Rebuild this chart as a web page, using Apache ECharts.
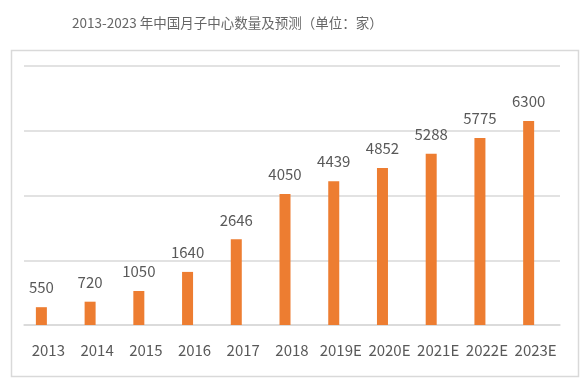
<!DOCTYPE html>
<html><head><meta charset="utf-8">
<script src="https://cdn.jsdelivr.net/npm/echarts@6/dist/echarts.min.js"></script>
<style>html,body{margin:0;padding:0;background:#fff}#c{width:583px;height:381px}</style>
</head><body><div id="c"></div>
<script>
const categories = ['2013','2014','2015','2016','2017','2018','2019E','2020E','2021E','2022E','2023E'];
const values = [550,720,1050,1640,2646,4050,4439,4852,5288,5775,6300];
const titleText = '2013-2023 年中国月子中心数量及预测（单位：家）';
const yMin = 0, yMax = 8000, yInterval = 2000;

const font = '"Noto Sans CJK SC", "Noto Sans", sans-serif';
const chart = echarts.init(document.getElementById('c'), null, {renderer:'canvas'});
chart.setOption({
  animation:false,
  backgroundColor:'#fff',
  title:{text:titleText,left:67,top:11,textStyle:{fontFamily:font,fontSize:13.5,fontWeight:'normal',color:'#666666'}},
  graphic:[{type:'rect',left:9,top:48,shape:{width:567,height:326},style:{fill:'none',stroke:'#d9d9d9',lineWidth:1.5},silent:true}],
  grid:{left:24,right:23,top:66,bottom:56,containLabel:false},
  xAxis:{type:'category',data:categories,
    axisLine:{lineStyle:{color:'#d9d9d9',width:1.5}},axisTick:{show:false},
    axisLabel:{fontFamily:font,fontSize:15,color:'#595959',margin:18,interval:0}},
  yAxis:{type:'value',min:yMin,max:yMax,interval:yInterval,
    axisLabel:{show:false},axisLine:{show:false},axisTick:{show:false},
    splitLine:{lineStyle:{color:'#d9d9d9',width:1.5}}},
  series:[
    {type:'bar',data:values,barWidth:11,barGap:'27%',itemStyle:{color:'#ED7D31'},
     label:{show:true,position:'top',distance:12,fontFamily:font,fontSize:15,color:'#595959'}},
    {type:'bar',data:[],barWidth:11,barGap:'27%'}
  ]
});
</script></body></html>
